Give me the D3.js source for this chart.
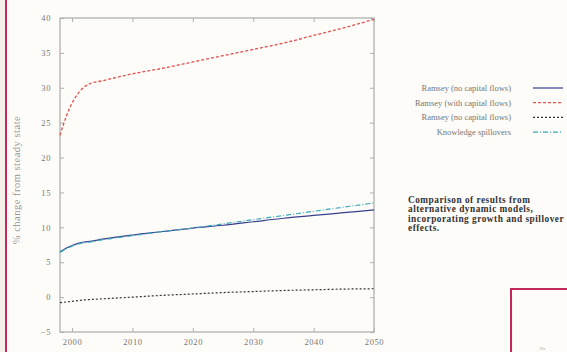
<!DOCTYPE html>
<html><head><meta charset="utf-8">
<script src="https://cdn.jsdelivr.net/npm/d3@7"></script>
<style>body{margin:0;background:#fdfcf9;}svg{display:block;}</style>
</head><body>
<svg id="c" width="567" height="352"></svg>
<script>
const years = [1998,1999,2000,2001,2002,2003,2005,2010,2015,2020,2025,2030,2035,2040,2045,2050];
const ramseyNoFlows = [6.5,7.0,7.4,7.7,7.9,8.0,8.3,8.9,9.4,9.9,10.3,10.8,11.3,11.7,12.1,12.5];
const ramseyWithFlows = [23.2,25.8,27.8,29.2,30.1,30.6,31.0,32.0,32.8,33.7,34.6,35.5,36.4,37.5,38.6,39.8];
const ramseyDotted = [-0.8,-0.7,-0.6,-0.5,-0.4,-0.35,-0.25,0.0,0.25,0.45,0.65,0.8,0.95,1.05,1.15,1.2];
const knowledge = [6.4,6.9,7.3,7.6,7.8,7.9,8.2,8.8,9.4,9.9,10.5,11.1,11.7,12.3,12.9,13.5];
const xTicks = [2000,2010,2020,2030,2040,2050];
const yTicks = [-5,0,5,10,15,20,25,30,35,40];
const legendLabels = ["Ramsey (no capital flows)","Ramsey (with capital flows)","Ramsey (no capital flows)","Knowledge spillovers"];
const noteLines = ["Comparison of results from","alternative dynamic models,","incorporating growth and spillover","effects."];

const svg = d3.select("#c");
svg.append("rect").attr("width",5).attr("height",352).attr("fill","#f2f0e8");
svg.append("line").attr("x1",6).attr("x2",6).attr("y1",0).attr("y2",352).attr("stroke","#c2285a").attr("stroke-width",2);

const L=60,R=374,T=18,B=332;
const x = d3.scaleLinear().domain([1998,2050]).range([L,R]);
const y = d3.scaleLinear().domain([-5,40]).range([B,T]);

svg.append("rect").attr("x",L).attr("y",T).attr("width",R-L).attr("height",B-T)
  .attr("fill","none").attr("stroke","#9a9a9a").attr("stroke-width",1);

const g = svg.append("g");
g.append("g").attr("transform",`translate(0,${B})`)
  .call(d3.axisBottom(x).tickValues(xTicks).tickFormat(d3.format("d")).tickSize(-4).tickPadding(7));
g.append("g").attr("transform",`translate(0,${T})`)
  .call(d3.axisTop(x).tickValues(xTicks).tickFormat("").tickSize(-4));
g.append("g").attr("transform",`translate(${L},0)`)
  .call(d3.axisLeft(y).tickValues(yTicks).tickSize(-4).tickPadding(9));
g.append("g").attr("transform",`translate(${R},0)`)
  .call(d3.axisRight(y).tickValues(yTicks).tickFormat("").tickSize(-4));
g.selectAll(".domain").remove();
g.selectAll(".tick line").attr("stroke","#b0b0b0");
g.selectAll(".tick text").attr("fill","#777").attr("font-family","Liberation Serif").attr("font-size",8.5).attr("letter-spacing",0.6);

svg.append("text").attr("transform","translate(20,180) rotate(-90)").attr("text-anchor","middle")
  .attr("font-family","Liberation Serif").attr("font-size",10.5).attr("letter-spacing",0.5).attr("fill","#999").text("% change from steady state");

const series = [
  {v:ramseyNoFlows,c:"#3a3f8f",d:null,w:1.2},
  {v:ramseyWithFlows,c:"#e0504f",d:"3,2",w:1.3},
  {v:ramseyDotted,c:"#333",d:"2,2",w:1.2},
  {v:knowledge,c:"#3aa9b8",d:"5,2,1,2",w:1.2}
];
const line = d3.line().x((d,i)=>x(years[i])).y(d=>y(d)).curve(d3.curveMonotoneX);
series.forEach(s=>{
  svg.append("path").datum(s.v).attr("d",line).attr("fill","none").attr("stroke",s.c)
    .attr("stroke-width",s.w).attr("stroke-dasharray",s.d);
});

const lg = svg.append("g");
legendLabels.forEach((t,i)=>{
  const yy = 88 + i*14.7;
  lg.append("text").attr("x",511).attr("y",yy+3).attr("text-anchor","end")
    .attr("font-family","Liberation Serif").attr("font-size",8.5).attr("fill","#777").text(t);
  lg.append("line").attr("x1",533).attr("x2",563).attr("y1",yy).attr("y2",yy)
    .attr("stroke",series[i].c).attr("stroke-width",series[i].w).attr("stroke-dasharray",series[i].d);
});

noteLines.forEach((t,i)=>{
  svg.append("text").attr("x",408).attr("y",203+i*9.3).attr("font-family","Liberation Serif")
    .attr("font-weight","bold").attr("font-size",9.3).attr("letter-spacing",0.5).attr("fill","#333").text(t);
});

svg.append("path").attr("d","M511,352 V289 H567").attr("fill","none").attr("stroke","#c2285a").attr("stroke-width",2);
svg.append("text").attr("x",540).attr("y",350).attr("font-family","Liberation Serif").attr("font-size",5).attr("fill","#aaa").text("Pu");
</script>
</body></html>
